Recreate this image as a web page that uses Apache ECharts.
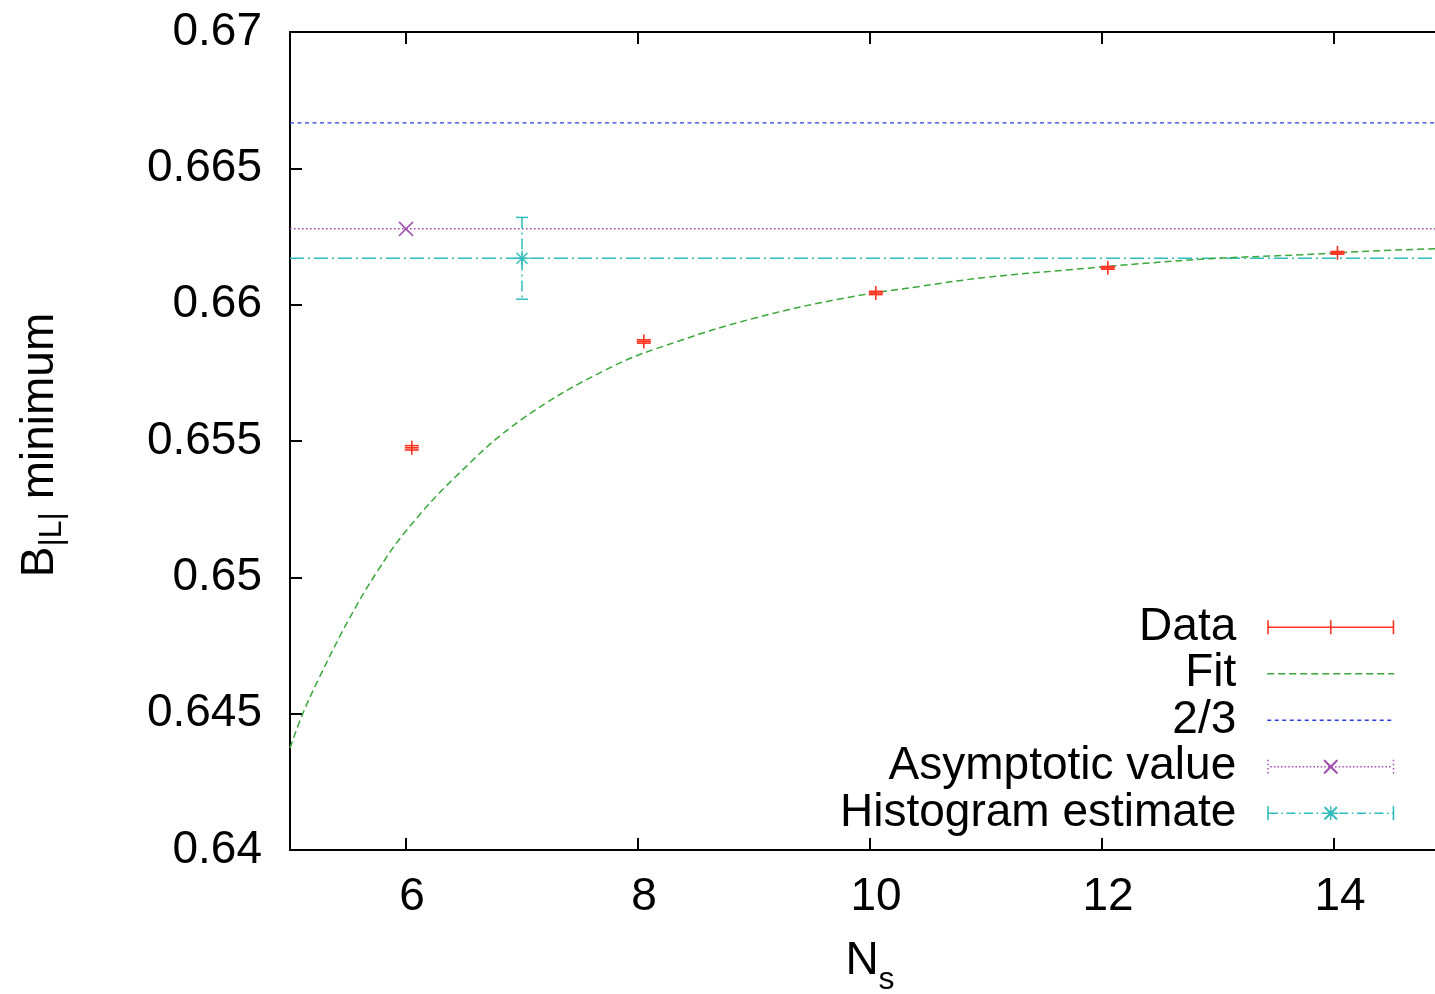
<!DOCTYPE html>
<html><head><meta charset="utf-8">
<script src="https://cdn.jsdelivr.net/npm/echarts@6/dist/echarts.min.js"></script>
<style>html,body{margin:0;padding:0;background:#fff}#c{width:1435px;height:994px}</style>
</head><body><div id="c"></div>
<script>
// ---- data ----
const xRange = [5, 15];
const yRange = [0.64, 0.67];
const xTicks = [6, 8, 10, 12, 14];
const yTicks = [0.64, 0.645, 0.65, 0.655, 0.66, 0.665, 0.67];
const dataNs = [6.05, 8.05, 10.05, 12.05, 14.03];
const dataB = [0.65475, 0.65865, 0.66043, 0.66135, 0.6619];
const dataErr = [0.00008, 0.00006, 0.00006, 0.00005, 0.00005];
const fitNs = [5.0, 5.11, 5.25, 5.5, 5.75, 6.0, 6.43, 7.0, 7.76, 8.34, 9.0, 9.74, 10.43, 11.0, 11.72, 12.41, 13.0, 13.71, 14.4, 15.0];
const fitB = [0.64374, 0.6450, 0.6463, 0.6484, 0.6502, 0.6517, 0.6537, 0.6558, 0.65769, 0.65865, 0.6595, 0.66021, 0.66067, 0.6610, 0.66128, 0.66153, 0.6617, 0.66183, 0.66198, 0.66207];
const twoThirds = [0.666667];
const asymNs = [6];
const asymB = [0.66278];
const histNs = [7];
const histB = [0.6617];
const histErr = [0.0015];
const legendNames = ['Data', 'Fit', '2/3', 'Asymptotic value', 'Histogram estimate'];

// ---- styles ----
const FONT = "'Liberation Sans', Arial, Helvetica, sans-serif";
const RED = '#ff3322', GREEN = '#3aa83a', BLUE = '#2a40e0', PURPLE = '#a050b0', CYAN = '#30bcbc';

function rect(x, y, w, h) { return `M${x},${y}L${x + w},${y}L${x + w},${y + h}L${x},${y + h}Z`; }
function xMark(cx, cy, r, t) {
  return `M${cx - r},${cy - r}L${cx - r + t},${cy - r}L${cx + r},${cy + r - t}L${cx + r},${cy + r}L${cx + r - t},${cy + r}L${cx - r},${cy - r + t}Z` +
         `M${cx + r},${cy - r}L${cx + r},${cy - r + t}L${cx - r + t},${cy + r}L${cx - r},${cy + r}L${cx - r},${cy + r - t}L${cx + r - t},${cy - r}Z`;
}
const IW = 127, IH = 14;
const dataIcon = 'path://' + rect(0, 0, 1.6, IH) + rect(0, 6.2, IW, 1.6) + rect(62.7, 0, 1.6, IH) + rect(IW - 1.6, 0, 1.6, IH);
let asymIconP = '';
for (let y = 0; y <= 12.5; y += 4.1) { asymIconP += rect(0, y, 1.5, 1.5) + rect(IW - 1.5, y, 1.5, 1.5); }
for (let x = 3; x < IW - 3; x += 3.6) { asymIconP += rect(x, 6.25, 1.5, 1.5); }
asymIconP += xMark(63.5, 7, 7, 1.5);
const asymIcon = 'path://' + asymIconP;
let histIconP = rect(0, 0, 1.6, IH) + rect(IW - 1.6, 0, 1.6, IH);
for (let x = 1.6, k = 0; x < IW - 2; k++) {
  const w = (k % 2 === 0) ? 9 : 1.6;
  histIconP += rect(x, 6.25, Math.min(w, IW - 1.6 - x), 1.5);
  x += w + 3.5;
}
histIconP += xMark(63.5, 7, 6.5, 1.4) + rect(62.8, 0, 1.4, IH) + rect(56, 6.3, 15, 1.4);
const histIcon = 'path://' + histIconP;

const chart = echarts.init(document.getElementById('c'), null, { renderer: 'canvas' });

const axisText = { fontSize: 46, color: '#000', fontFamily: FONT };
const hLine = v => [[xRange[0], v], [xRange[1], v]];

const option = {
  animation: false,
  backgroundColor: '#fff',
  textStyle: { fontFamily: FONT },
  grid: { left: 290, top: 32, right: -15, bottom: 144, outerBoundsMode: 'none', containLabel: false },
  legend: {
    orient: 'vertical',
    align: 'right',
    right: 40,
    top: 604,
    padding: 0,
    itemGap: 0,
    itemWidth: IW,
    itemHeight: IH,
    symbolKeepAspect: false,
    selectedMode: false,
    textStyle: { fontSize: 46, color: '#000', fontFamily: FONT, lineHeight: 46.5, padding: [0, 26, 0, 0] },
    data: [
      { name: legendNames[0], icon: dataIcon, itemStyle: { color: RED, borderWidth: 0 } },
      { name: legendNames[1], itemStyle: { opacity: 0 }, lineStyle: { width: 1.5 } },
      { name: legendNames[2], itemStyle: { opacity: 0 }, lineStyle: { width: 1.4 } },
      { name: legendNames[3], icon: asymIcon, itemStyle: { color: PURPLE, borderWidth: 0 } },
      { name: legendNames[4], icon: histIcon, itemStyle: { color: CYAN, borderWidth: 0 } }
    ]
  },
  xAxis: [{
    type: 'value', min: xRange[0], max: xRange[1],
    name: '{n|N}{s|s}', nameLocation: 'middle', nameGap: 76,
    nameTextStyle: {
      rich: {
        n: { fontSize: 46, lineHeight: 70, verticalAlign: 'middle', fontFamily: FONT, color: '#000' },
        s: { fontSize: 32, lineHeight: 70, verticalAlign: 'bottom', fontFamily: FONT, color: '#000' }
      }
    },
    axisLine: { show: true, onZero: false, lineStyle: { color: '#000', width: 2 } },
    axisTick: { show: true, inside: true, length: 12, lineStyle: { color: '#000', width: 2 }, customValues: xTicks },
    axisLabel: Object.assign({ margin: 24, customValues: xTicks, padding: [0, 0, 0, 12] }, axisText),
    splitLine: { show: false }
  }, {
    type: 'value', min: xRange[0], max: xRange[1], position: 'top',
    axisLine: { show: true, onZero: false, lineStyle: { color: '#000', width: 2 } },
    axisTick: { show: true, inside: true, length: 12, lineStyle: { color: '#000', width: 2 }, customValues: xTicks },
    axisLabel: { show: false },
    splitLine: { show: false }
  }],
  yAxis: [{
    type: 'value', min: yRange[0], max: yRange[1],
    name: '{b|B}{s||L|}{b| minimum}', nameLocation: 'middle', nameGap: 222, nameRotate: 90,
    nameTextStyle: {
      padding: [0, 8, 0, 0],
      rich: {
        b: { fontSize: 46, lineHeight: 56, verticalAlign: 'middle', fontFamily: FONT, color: '#000' },
        s: { fontSize: 32, lineHeight: 56, verticalAlign: 'bottom', fontFamily: FONT, color: '#000' }
      }
    },
    axisLine: { show: true, onZero: false, lineStyle: { color: '#000', width: 2 } },
    axisTick: { show: true, inside: true, length: 12, lineStyle: { color: '#000', width: 2 }, customValues: yTicks },
    axisLabel: Object.assign({ margin: 28, customValues: yTicks, formatter: v => String(+v.toFixed(3)) }, axisText),
    splitLine: { show: false }
  }],
  series: [
    {
      name: legendNames[0], type: 'custom', clip: true,
      itemStyle: { color: RED },
      data: dataNs.map((x, i) => [x, dataB[i], dataErr[i]]),
      z: 5,
      renderItem: function (params, api) {
        const x = api.value(0), y = api.value(1), e = api.value(2);
        const c = api.coord([x, y]), t = api.coord([x, y + e]), b = api.coord([x, y - e]);
        const cw = 7, m = 7;
        const st = { stroke: RED, lineWidth: 1.6 };
        const L = (x1, y1, x2, y2) => ({ type: 'line', shape: { x1, y1, x2, y2 }, style: st });
        return { type: 'group', children: [
          L(t[0], t[1], b[0], b[1]),
          L(t[0] - cw, t[1], t[0] + cw, t[1]),
          L(b[0] - cw, b[1], b[0] + cw, b[1]),
          L(c[0] - m, c[1], c[0] + m, c[1]),
          L(c[0], c[1] - m, c[0], c[1] + m)
        ]};
      }
    },
    {
      name: legendNames[1], type: 'line', smooth: 0.4,
      symbol: 'none', showSymbol: false, clip: true,
      itemStyle: { color: GREEN },
      lineStyle: { color: GREEN, width: 1.5, type: [7, 4] },
      data: fitNs.map((x, i) => [x, fitB[i]]),
      z: 2
    },
    {
      name: legendNames[2], type: 'line', symbol: 'none', clip: true,
      itemStyle: { color: BLUE },
      lineStyle: { color: BLUE, width: 1.3, type: [4, 3.5] },
      data: hLine(twoThirds[0]),
      z: 1
    },
    {
      name: legendNames[3], type: 'line', symbol: 'none', clip: true,
      itemStyle: { color: PURPLE },
      lineStyle: { color: PURPLE, width: 1.5, type: [1.6, 2.4] },
      data: hLine(asymB[0]),
      z: 1
    },
    {
      name: legendNames[3], type: 'custom', clip: true,
      itemStyle: { color: PURPLE },
      data: asymNs.map((x, i) => [x, asymB[i]]),
      z: 4,
      renderItem: function (params, api) {
        const c = api.coord([api.value(0), api.value(1)]);
        const r = 7, st = { stroke: PURPLE, lineWidth: 1.5 };
        return { type: 'group', children: [
          { type: 'line', shape: { x1: c[0] - r, y1: c[1] - r, x2: c[0] + r, y2: c[1] + r }, style: st },
          { type: 'line', shape: { x1: c[0] - r, y1: c[1] + r, x2: c[0] + r, y2: c[1] - r }, style: st }
        ]};
      }
    },
    {
      name: legendNames[4], type: 'line', symbol: 'none', clip: true,
      itemStyle: { color: CYAN },
      lineStyle: { color: CYAN, width: 1.5, type: [14, 4, 2, 4] },
      data: hLine(histB[0]),
      z: 1
    },
    {
      name: legendNames[4], type: 'custom', clip: true,
      itemStyle: { color: CYAN },
      data: histNs.map((x, i) => [x, histB[i], histErr[i]]),
      z: 4,
      renderItem: function (params, api) {
        const x = api.value(0), y = api.value(1), e = api.value(2);
        const c = api.coord([x, y]), t = api.coord([x, y + e]), b = api.coord([x, y - e]);
        const cw = 6, r = 7.5, d = 5.5;
        const st = { stroke: CYAN, lineWidth: 1.5 };
        const dst = { stroke: CYAN, lineWidth: 1.5, lineDash: [11, 4, 2, 4] };
        const L = (x1, y1, x2, y2, s) => ({ type: 'line', shape: { x1, y1, x2, y2 }, style: s || st });
        return { type: 'group', children: [
          L(t[0], t[1], b[0], b[1], dst),
          L(t[0] - cw, t[1], t[0] + cw, t[1]),
          L(b[0] - cw, b[1], b[0] + cw, b[1]),
          L(c[0] - r, c[1], c[0] + r, c[1]),
          L(c[0], c[1] - r, c[0], c[1] + r),
          L(c[0] - d, c[1] - d, c[0] + d, c[1] + d),
          L(c[0] - d, c[1] + d, c[0] + d, c[1] - d)
        ]};
      }
    }
  ]
};
chart.setOption(option);
</script>
</body></html>
